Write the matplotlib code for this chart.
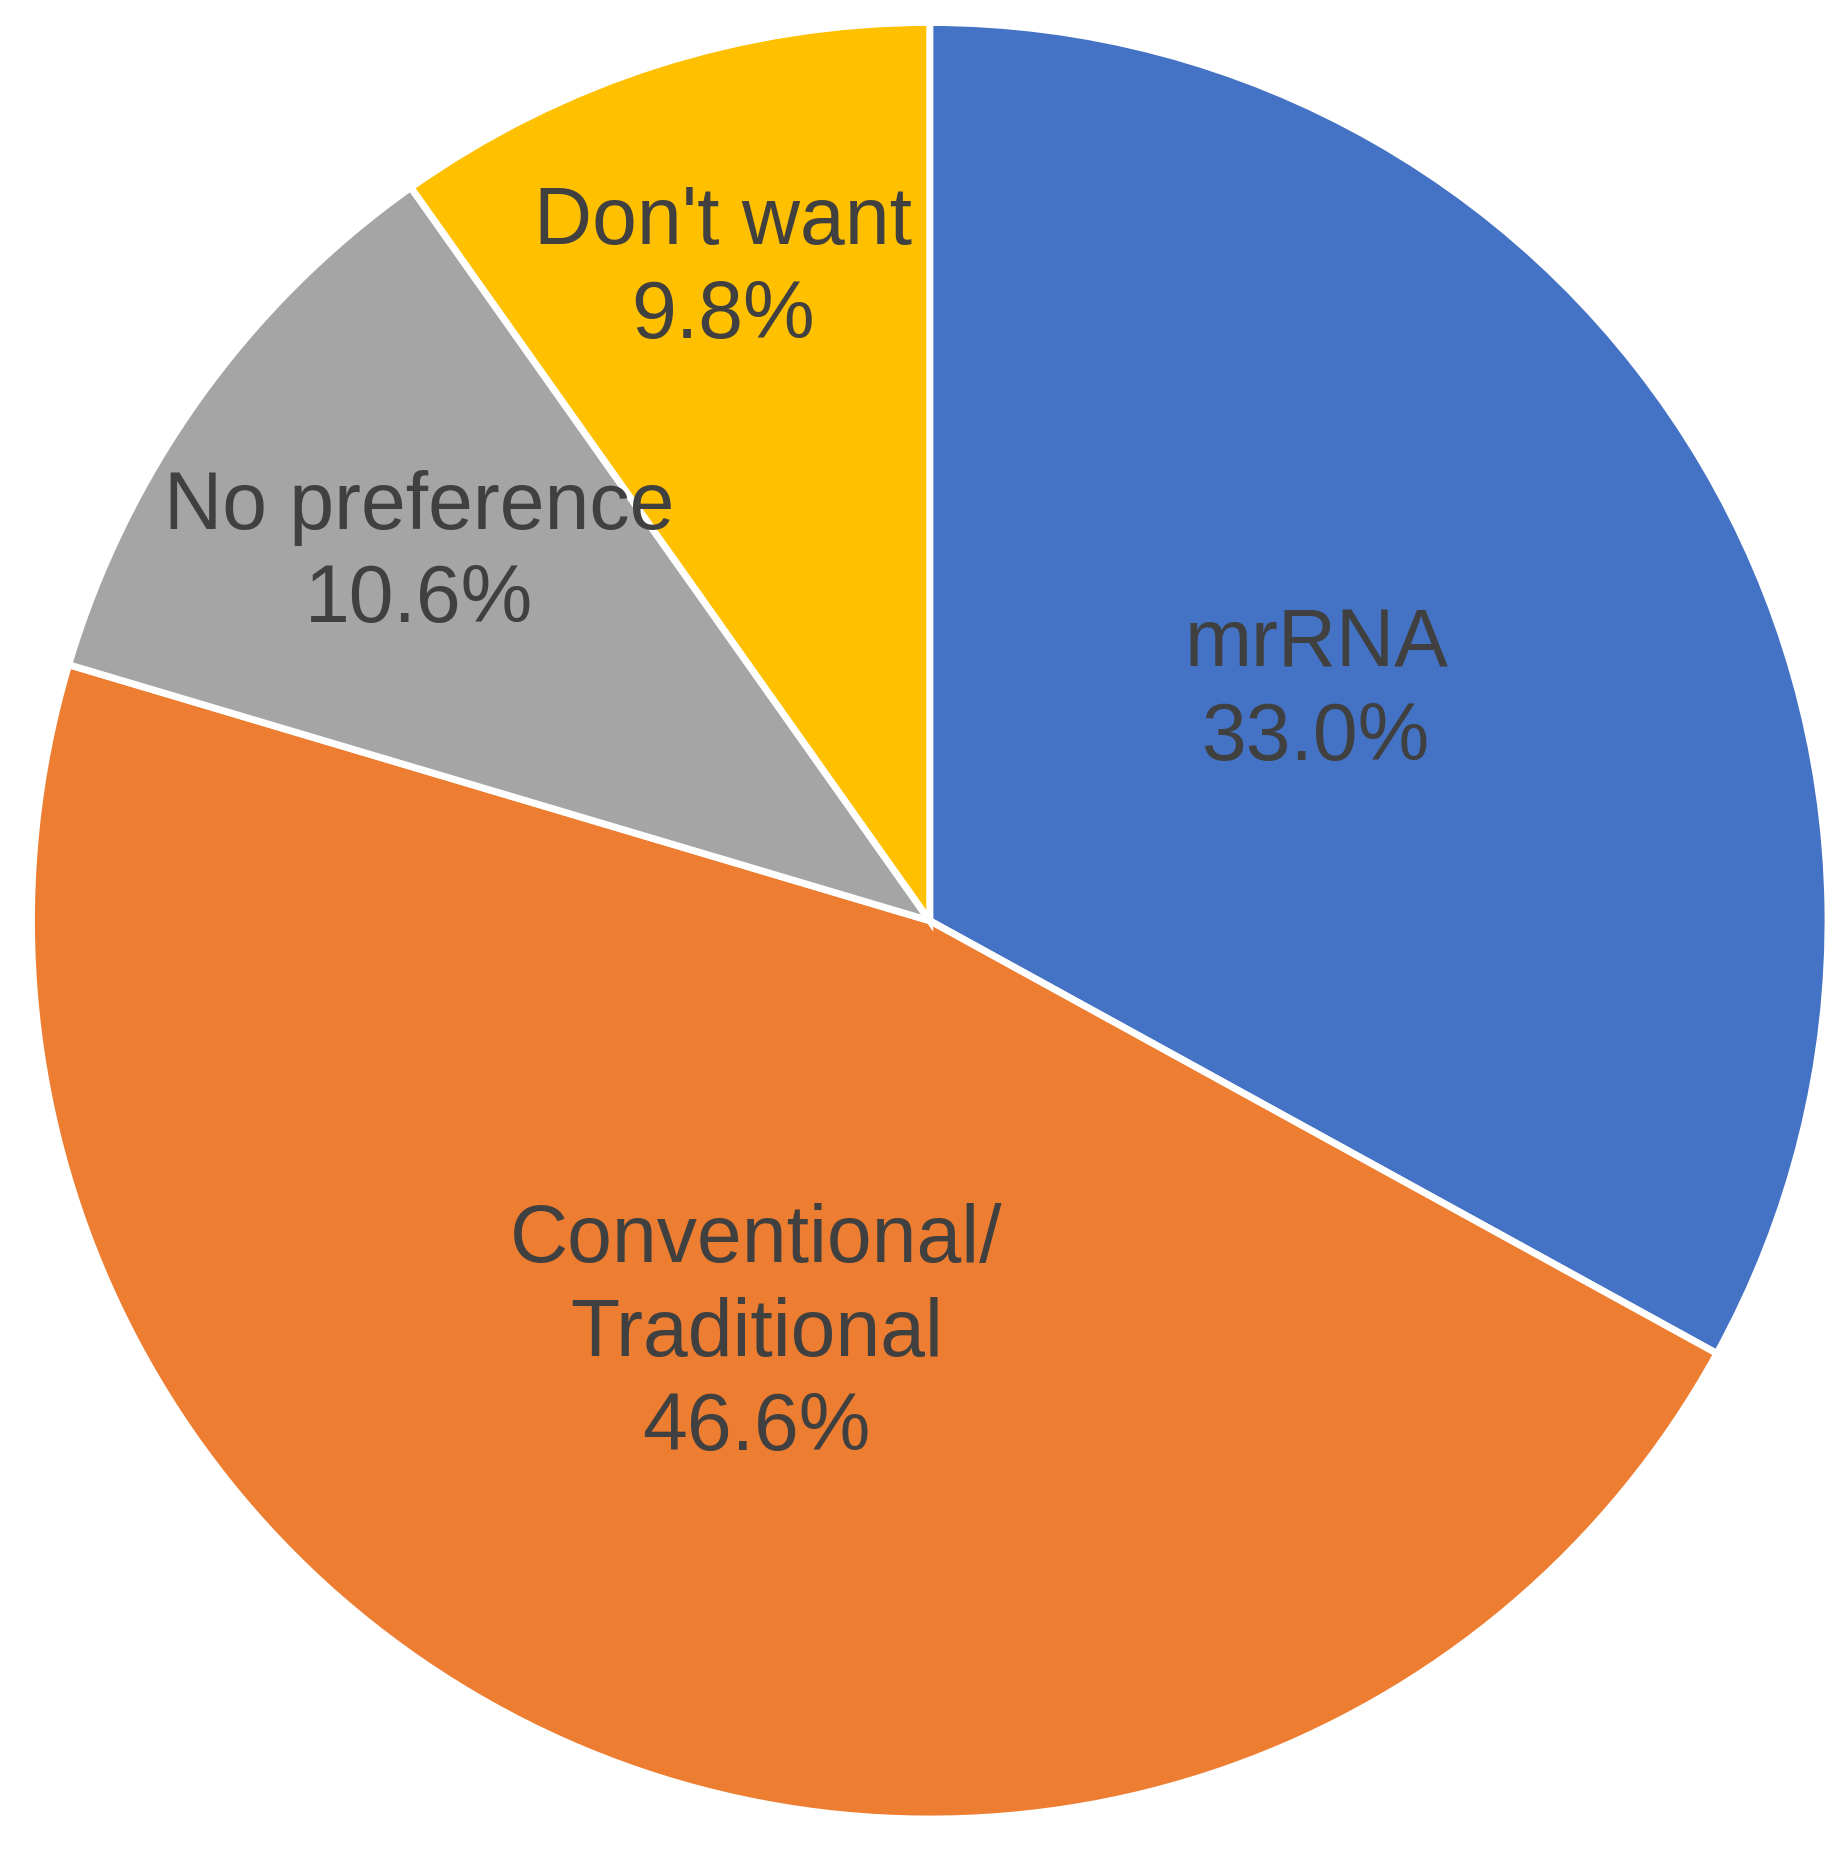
import numpy as np
import matplotlib
matplotlib.use("Agg")
import matplotlib.pyplot as plt

labels = ["mrRNA", "Conventional/\nTraditional", "No preference", "Don't want"]
values = [33.0, 46.6, 10.6, 9.8]
colors = ["#4472C4", "#ED7D31", "#A5A5A5", "#FFC000"]
label_dist = [0.50, 0.50, 0.70, 0.76]

fig = plt.figure(figsize=(18.46, 18.55), dpi=100)
ax = fig.add_axes([0.0, 0.0, 1.0, 1.0])
wedges, _ = ax.pie(values, colors=colors, startangle=90, counterclock=False,
                   radius=1.0, wedgeprops=dict(edgecolor="white", linewidth=5))
for w, lab, v, d in zip(wedges, labels, values, label_dist):
    ang = np.deg2rad((w.theta1 + w.theta2) / 2)
    ax.text(d * np.cos(ang), d * np.sin(ang), f"{lab}\n{v:.1f}%", ha="center", va="center",
            fontsize=58, color="#404040", family="Liberation Sans", linespacing=1.3)
ax.set_xlim(-1.035, 1.02)
ax.set_ylim(-1.04, 1.025)
ax.set_aspect("equal")
ax.axis("off")
fig.savefig("out.png", dpi=100, facecolor="white")
